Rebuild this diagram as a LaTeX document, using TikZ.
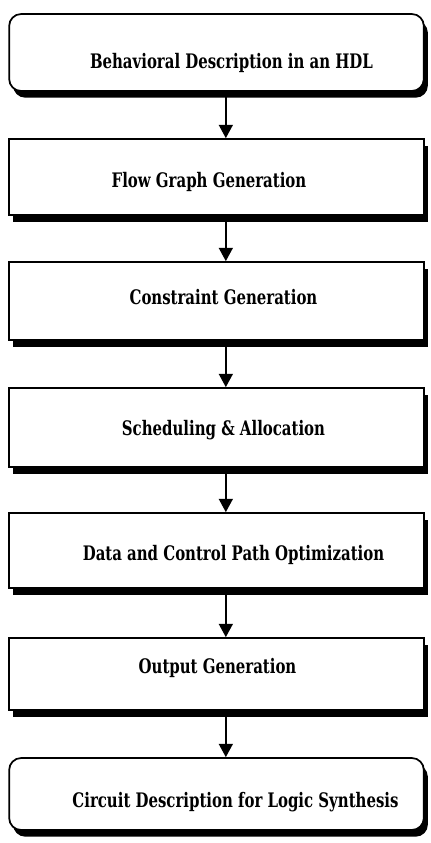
\documentclass[tikz,border=0pt]{standalone}
\usepackage{fontspec}
\newfontfamily\stagefont[FakeStretch=0.83]{DejaVu Serif Condensed}
\usetikzlibrary{arrows.meta,shadows}
\begin{document}
\begin{tikzpicture}[x=0.75pt,y=-0.75pt,
  box/.style={draw=black, line width=1.3pt, fill=white,
    minimum width=311pt, minimum height=#1, inner sep=0pt,
    drop shadow={shadow xshift=3pt, shadow yshift=-5pt, fill=black, opacity=1}},
  endbox/.style={box=#1, rounded corners=9pt},
  lab/.style={font=\stagefont\bfseries\fontsize{15}{17}\selectfont, inner sep=0pt},
  arr/.style={line width=1.3pt, -{Triangle[width=10.5pt,length=10pt]}}]
\useasboundingbox (0,0) rectangle (430,843);
% stages
\node[endbox=57.75pt] (b1) at (216.5,52.5) {};
\node[box=57pt]       (b2) at (216.5,177) {};
\node[box=58.5pt]     (b3) at (216.5,301) {};
\node[box=59.25pt]    (b4) at (216.5,427.5) {};
\node[box=56.25pt]    (b5) at (216.5,550.5) {};
\node[box=54pt]       (b6) at (216.5,674) {};
\node[endbox=54pt]    (b7) at (216.5,794) {};
% stage titles
\node[lab] (t1) at (231.5,63)  {Behavioral Description in an HDL};
\node[lab] (t2) at (209,182)   {Flow Graph Generation};
\node[lab] (t3) at (223.5,297) {Constraint Generation};
\node[lab] (t4) at (223.5,430) {Scheduling \& Allocation};
\node[lab] (t5) at (233.5,555) {Data and Control Path Optimization};
\node[lab] (t6) at (217.5,668) {Output Generation};
\node[lab] (t7) at (235.5,802) {Circuit Description for Logic Synthesis};
% flow between stages
\foreach \a/\b in {b1/b2,b2/b3,b3/b4,b4/b5,b5/b6,b6/b7}
  \draw[arr] ([xshift=7pt]\a.south) -- ([xshift=7pt]\b.north);
\end{tikzpicture}
\end{document}
